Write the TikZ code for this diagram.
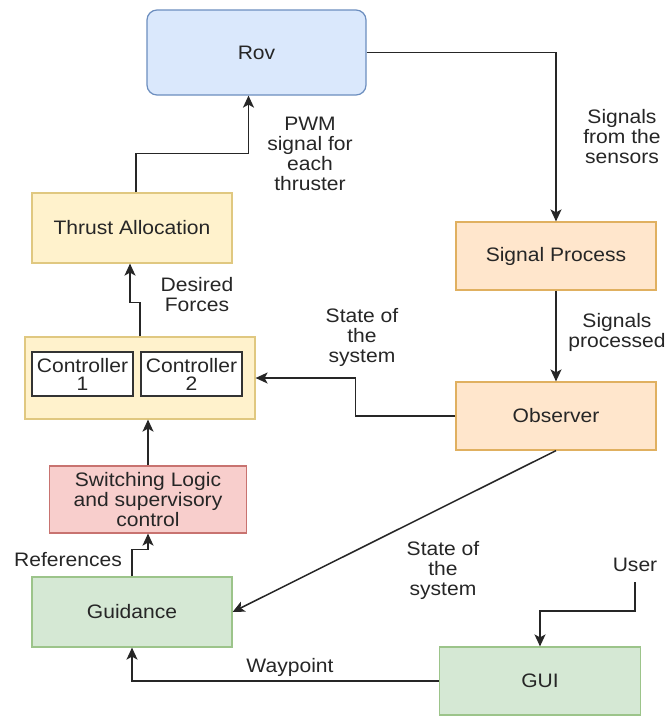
\documentclass[tikz,border=0pt]{standalone}
\usepackage{fontspec}
\setmainfont{Liberation Sans}[FakeStretch=1.08]
\usepackage{tikz}
\usetikzlibrary{arrows.meta}

\definecolor{bluefill}{HTML}{DAE8FC}
\definecolor{blueline}{HTML}{6C8EBF}
\definecolor{orangefill}{HTML}{FFE6CC}
\definecolor{orangeline}{HTML}{E0B060}
\definecolor{yellowfill}{HTML}{FFF2CC}
\definecolor{yellowline}{HTML}{E0C880}
\definecolor{redfill}{HTML}{F8CECC}
\definecolor{redline}{HTML}{C87370}
\definecolor{greenfill}{HTML}{D5E8D4}
\definecolor{greenline}{HTML}{9CC48A}

\begin{document}
\begin{tikzpicture}
  [x=1pt,y=-1pt,
   every node/.style={font=\fontsize{19.5}{20}\selectfont,text=black!85,align=center},
   blk/.style={draw,line width=1.2pt,inner sep=0pt,minimum width=200pt,minimum height=68pt},
   rovblk/.style={blk,fill=bluefill,draw=blueline,rounded corners=10pt,minimum width=219pt,minimum height=85pt},
   orangeblk/.style={blk,fill=orangefill,draw=orangeline},
   yellowblk/.style={blk,fill=yellowfill,draw=yellowline},
   redblk/.style={blk,fill=redfill,draw=redline,minimum width=197pt,minimum height=67pt},
   greenblk/.style={blk,fill=greenfill,draw=greenline},
   ctrlblk/.style={draw=black!80,fill=white,line width=1.5pt,inner sep=0pt,
     minimum width=101pt,minimum height=44pt,font=\fontsize{19.5}{18}\selectfont},
   lbl/.style={inner sep=1pt},
   link/.style={line width=1.5pt,draw=black!85,-{Stealth[length=12pt,width=11pt,inset=3pt]}}]

  \fill[white] (0,0) rectangle (668,716);
  \useasboundingbox (0,0) rectangle (668,716);

  % blocks
  \node[rovblk] (rov) at (256.5,52.5) {Rov};
  \node[orangeblk] (sigproc) at (556,256) {Signal Process};
  \node[orangeblk] (obs) at (556,416) {Observer};
  \node[yellowblk,minimum height=70pt] (thrust) at (132,228) {Thrust Allocation};
  \node[yellowblk,minimum width=230pt,minimum height=82pt] (ctrl) at (140,378) {};
  \node[ctrlblk] (c1) at (82.5,374) {Controller\\1};
  \node[ctrlblk] (c2) at (191.5,374) {Controller\\2};
  \node[redblk] (switch) at (148,499.5) {Switching Logic\\and supervisory\\control};
  \node[greenblk,minimum height=70pt] (guid) at (132,612) {Guidance};
  \node[greenblk,minimum width=201pt] (gui) at (540,681) {GUI};

  % labels
  \node[lbl] (pwm) at (310,154) {PWM\\signal for\\each\\thruster};
  \node[lbl] (sensors) at (622,137) {Signals\\from the\\sensors};
  \node[lbl] (forces) at (197,295) {Desired\\Forces};
  \node[lbl] (processed) at (617,332) {Signals\\processed};
  \node[lbl] (state1) at (362,337) {State of\\the\\system};
  \node[lbl] (state2) at (443,570) {State of\\the\\system};
  \node[lbl] (refs) at (68,560) {References};
  \node[lbl] (wayp) at (290,667) {Waypoint};
  \node[lbl] (user) at (635,565) {User};

  % connectors
  \draw[link] (rov.east) -| (sigproc.north);
  \draw[link] (sigproc) -- (obs);
  \draw[link] (obs.west) -- ++(-100,0) |- (ctrl.east);
  \draw[link] (ctrl.north) -- ++(0,-34) -| ([xshift=-2pt]thrust.south);
  \draw[link] ([xshift=4pt]thrust.north) -- ++(0,-39) -| ([xshift=-8pt]rov.south);
  \draw[link] (switch.north) -- (switch.north |- ctrl.south);
  \draw[link] (guid.north) -- ++(0,-27) -| (switch.south);
  \draw[link] (obs.south) -- (guid.east);
  \draw[link] (gui.west) -| (guid.south);
  \draw[link,shorten <=9pt] (user.south) -- ++(0,38) -| (gui.north);
\end{tikzpicture}
\end{document}
